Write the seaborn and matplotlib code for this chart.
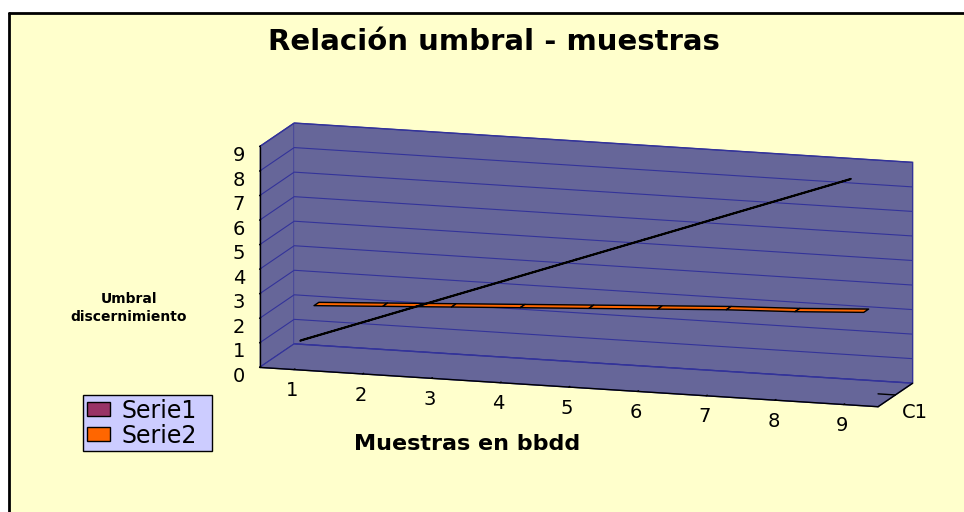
import numpy as np
import matplotlib
matplotlib.use("Agg")
import matplotlib.pyplot as plt
import seaborn as sns
from matplotlib.patches import Patch, Rectangle
from mpl_toolkits.mplot3d.art3d import Poly3DCollection

# Data
muestras = [1, 2, 3, 4, 5, 6, 7, 8, 9]
serie1 = [1, 2, 3, 4, 5, 6, 7, 8, 9]
serie2 = [2.05, 2.2, 2.35, 2.5, 2.65, 2.8, 2.95, 3.05, 3.2]
series_names = ["Serie1", "Serie2"]
depth_labels = ["C1"]
z_ticks = list(range(0, 10))

sns.set_style("white")
plt.rcParams["font.family"] = ["DejaVu Sans"]
plt.rcParams["text.color"] = "black"
plt.rcParams["xtick.color"] = "black"
plt.rcParams["ytick.color"] = "black"

wall = "#666699"
grid_c = "#333399"
colors = {"Serie1": "#993366", "Serie2": "#FF6600"}

fig = plt.figure(figsize=(9.64, 5.12), dpi=100)
fig.patch.set_facecolor("white")
W, H = 964, 512
# chart area background with border on left/top
fig.patches.append(Rectangle((9 / W, 0), 1 - 9 / W, 1 - 13 / H, transform=fig.transFigure,
                             facecolor="#FFFFCC", edgecolor="none", zorder=-5))
fig.lines.append(plt.Line2D([9 / W, 9 / W], [0, 1 - 13 / H], transform=fig.transFigure,
                            color="black", lw=2, zorder=-4))
fig.lines.append(plt.Line2D([9 / W, 1], [1 - 13 / H, 1 - 13 / H], transform=fig.transFigure,
                            color="black", lw=2, zorder=-4))

# 3D box sized through the axes rectangle (zoom kept at 1)
ax_w, ax_h = 1.231, 1.318
cx, cy = 577 / W, 1 - 274 / H
ax = fig.add_axes([cx - ax_w / 2, cy - ax_h / 2, ax_w, ax_h], projection="3d",
                  computed_zorder=False)
ax.patch.set_alpha(0)
ax.set_proj_type("ortho")
ax.view_init(elev=12, azim=-73)
ax.set_box_aspect((6.56, 1.2, 2.29), zoom=1.0)

ax.set_xlim(0.5, 9.5)
ax.set_ylim(0, 1)
ax.set_zlim(0, 9)

for axis in (ax.xaxis, ax.yaxis, ax.zaxis):
    axis.set_pane_color(wall)
    axis.pane.set_edgecolor(grid_c)
    axis.line.set_color("black")
    axis.line.set_linewidth(1.0)
    axis._axinfo["tick"]["inward_factor"] = 0.0
    axis._axinfo["tick"]["outward_factor"] = 0.35
    axis._axinfo["tick"]["linewidth"] = {True: 1.0, False: 0.5}
    axis._axinfo["tick"]["color"] = "black"
ax.xaxis._axinfo["grid"].update(color=(0, 0, 0, 0))
ax.yaxis._axinfo["grid"].update(color=(0, 0, 0, 0))
ax.zaxis._axinfo["grid"].update(color=grid_c, linewidth=0.8)
ax.zaxis.set_ticks_position("lower")

ax.set_xticks(muestras)
ax.set_xticklabels([str(m) for m in muestras], fontsize=14)
ax.set_yticks([0.5])
ax.set_yticklabels(depth_labels, fontsize=14)
ax.set_zticks(z_ticks)
ax.set_zticklabels([str(z) for z in z_ticks], fontsize=14)
ax.tick_params(axis="z", pad=0)
ax.tick_params(axis="x", pad=4)
ax.tick_params(axis="y", pad=0)


def ribbon(values, d0, d1, color, z, lw):
    polys = []
    for i in range(len(muestras) - 1):
        polys.append([(muestras[i], d0, values[i]), (muestras[i + 1], d0, values[i + 1]),
                      (muestras[i + 1], d1, values[i + 1]), (muestras[i], d1, values[i])])
    pc = Poly3DCollection(polys, facecolor=color, edgecolor="black", linewidth=lw)
    pc.set_zorder(z)
    ax.add_collection3d(pc)


ribbon(serie2, 0.58, 0.72, colors["Serie2"], 5, 1.0)
ribbon(serie1, 0.18, 0.21, colors["Serie1"], 6, 1.3)

fig.text(494 / W, 1 - 42 / H, "Relación umbral - muestras", ha="center", va="center",
         fontsize=21, fontweight="bold")
fig.text(129 / W, 1 - 308 / H, "Umbral\ndiscernimiento", ha="center", va="center",
         fontsize=10, fontweight="bold", linespacing=1.35)
fig.text(467 / W, 1 - 444 / H, "Muestras en bbdd", ha="center", va="center",
         fontsize=16, fontweight="bold")

handles = [Patch(facecolor=colors[n], edgecolor="black", label=n) for n in series_names]
leg = fig.legend(handles=handles, loc="upper left", mode="expand",
                 bbox_to_anchor=(83 / W, 1 - 448 / H, 129 / W, 53 / H),
                 fontsize=17, frameon=True, fancybox=False, handlelength=1.0, handleheight=0.55,
                 borderpad=0.15, labelspacing=0.05, handletextpad=0.5, borderaxespad=0)
leg.get_frame().set_facecolor("#CCCCFF")
leg.get_frame().set_edgecolor("black")
leg.get_frame().set_alpha(1)

fig.savefig("out.png", dpi=100)
